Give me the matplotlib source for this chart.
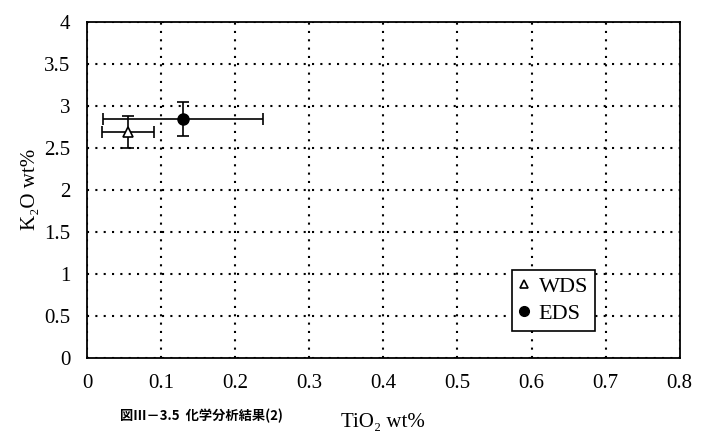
import matplotlib.pyplot as plt
from matplotlib.lines import Line2D

plt.rcParams['font.family'] = ['Liberation Serif', 'DejaVu Serif']

# WDS / EDS measurements (TiO2, K2O) with error ranges
wds_x = [0.055]
wds_y = [2.69]
wds_xerr = [0.035]
wds_yerr = [0.19]

eds_x = [0.13]
eds_y = [2.84]
eds_xerr = [0.108]
eds_yerr = [0.2]

xticks = [0, 0.1, 0.2, 0.3, 0.4, 0.5, 0.6, 0.7, 0.8]
yticks = [0, 0.5, 1, 1.5, 2, 2.5, 3, 3.5, 4]

fig = plt.figure(figsize=(7.14, 4.45), dpi=100)
ax = fig.add_axes([0.122, 0.196, 0.830, 0.755])

ax.errorbar(wds_x, wds_y, xerr=wds_xerr, yerr=wds_yerr, fmt='^', color='black',
            mfc='white', mec='black', ms=7, mew=1.2, elinewidth=1.2, capsize=4,
            capthick=1.2, zorder=3)
ax.errorbar(eds_x, eds_y, xerr=eds_xerr, yerr=eds_yerr, fmt='o', color='black',
            ms=8, elinewidth=1.2, capsize=4, capthick=1.2, zorder=3)

ax.set_xlim(0, 0.8)
ax.set_ylim(0, 4)
ax.set_xticks(xticks)
ax.set_yticks(yticks)
ax.set_xticklabels([str(t) for t in xticks])
ax.set_yticklabels([str(t) for t in yticks])
ax.tick_params(length=0, labelsize=15, pad=12)
ax.grid(True, color='black', linestyle=(0, (1, 3)), linewidth=1.5)
for s in ax.spines.values():
    s.set_linewidth(1.3)

ax.set_xlabel('TiO₂ wt%', fontsize=15, labelpad=14)
ax.set_ylabel('K₂O wt%', fontsize=15, labelpad=3)

handles = [
    Line2D([], [], marker='^', ls='none', color='black', mfc='white', mew=1.2, ms=6),
    Line2D([], [], marker='o', ls='none', color='black', ms=7),
]
leg = ax.legend(handles, ['WDS', 'EDS'], loc='lower left', bbox_to_anchor=(0.717, 0.08),
                borderaxespad=0, fontsize=16, fancybox=False, framealpha=1,
                edgecolor='black', handlelength=0.5, handletextpad=0.4,
                borderpad=0.3, labelspacing=0.3)
leg.get_frame().set_linewidth(1.2)

fig.text(0.168, 0.056, '図Ⅲ－3.5  化学分析結果(2)', fontsize=9.5, fontweight='bold',
         family=['Noto Sans CJK JP', 'DejaVu Sans'])

fig.savefig('out.png', dpi=100)
